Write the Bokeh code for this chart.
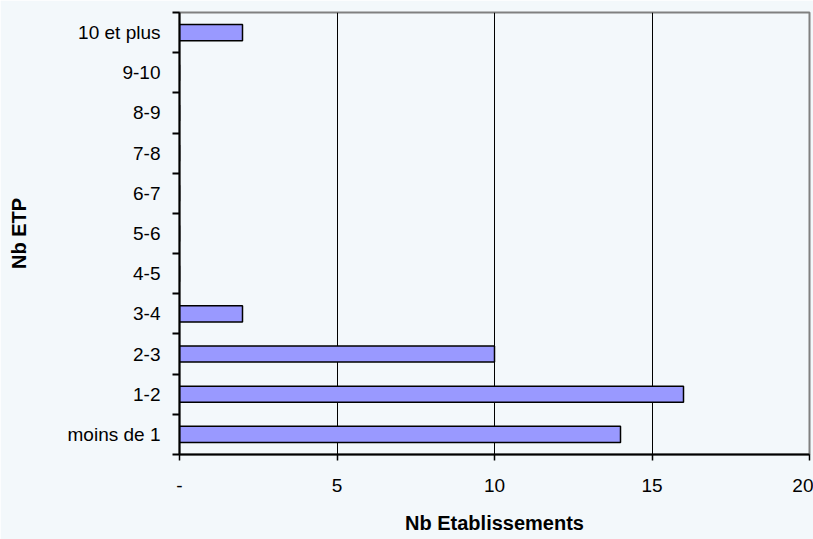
from bokeh.plotting import figure
from bokeh.models import Range1d, FixedTicker
from bokeh.embed import file_html
from bokeh.resources import INLINE

categories = ["moins de 1", "1-2", "2-3", "3-4", "4-5", "5-6", "6-7", "7-8", "8-9", "9-10", "10 et plus"]
values = [14, 16, 10, 2, 0, 0, 0, 0, 0, 0, 2]
x_ticks = [0, 5, 10, 15, 20]
x_tick_labels = ["-", "5", "10", "15", "20"]
x_title = "Nb Etablissements"
y_title = "Nb ETP"

BG = "#F3F8FB"
FONT = "Liberation Sans"

n = len(categories)
centers = [i + 0.5 for i in range(n)]

p = figure(width=813, height=539, output_backend="svg", toolbar_location=None,
           x_range=Range1d(0, 20), y_range=Range1d(0, n),
           frame_width=630, frame_height=442,
           min_border_left=179, min_border_right=4, min_border_top=12, min_border_bottom=85)
p.background_fill_color = BG
p.border_fill_color = BG
p.outline_line_color = "#808080"
p.outline_line_width = 2

p.hbar(y=centers, right=values, left=0, height=0.4,
       fill_color="#9999FF", line_color="black", line_width=1.5)

# x axis
xa = p.xaxis[0]
xa.ticker = FixedTicker(ticks=x_ticks)
xa.major_label_overrides = {t: lab for t, lab in zip(x_ticks, x_tick_labels)}
xa.major_label_text_align = "right"
xa.major_label_text_font = FONT
xa.major_label_text_font_size = "19px"
xa.major_label_text_color = "black"
xa.major_label_standoff = 18
xa.major_tick_in = 0
xa.major_tick_out = 6
xa.major_tick_line_width = 1.5
xa.major_tick_line_color = "black"
xa.minor_tick_line_color = None
xa.axis_line_color = "black"
xa.axis_line_width = 2
xa.axis_label = x_title
xa.axis_label_text_font = FONT
xa.axis_label_text_font_style = "bold"
xa.axis_label_text_font_size = "20px"
xa.axis_label_text_color = "black"
xa.axis_label_standoff = 17

# y axis
ya = p.yaxis[0]
ya.ticker = FixedTicker(ticks=centers, minor_ticks=list(range(n + 1)))
ya.major_label_overrides = {c: lab for c, lab in zip(centers, categories)}
ya.major_label_text_font = FONT
ya.major_label_text_font_size = "19px"
ya.major_label_text_color = "black"
ya.major_label_standoff = 12
ya.major_tick_line_color = None
ya.major_tick_in = 0
ya.major_tick_out = 7
ya.minor_tick_in = 0
ya.minor_tick_out = 7
ya.minor_tick_line_color = "black"
ya.minor_tick_line_width = 2
ya.axis_line_color = "black"
ya.axis_line_width = 2
ya.axis_label = y_title
ya.axis_label_text_font = FONT
ya.axis_label_text_font_style = "bold"
ya.axis_label_text_font_size = "20px"
ya.axis_label_text_color = "black"
ya.axis_label_standoff = 35

p.xgrid.ticker = FixedTicker(ticks=[5, 10, 15])
p.xgrid.grid_line_color = "black"
p.xgrid.grid_line_width = 1
p.ygrid.grid_line_color = None

open("out.html", "w").write(file_html(p, INLINE))
